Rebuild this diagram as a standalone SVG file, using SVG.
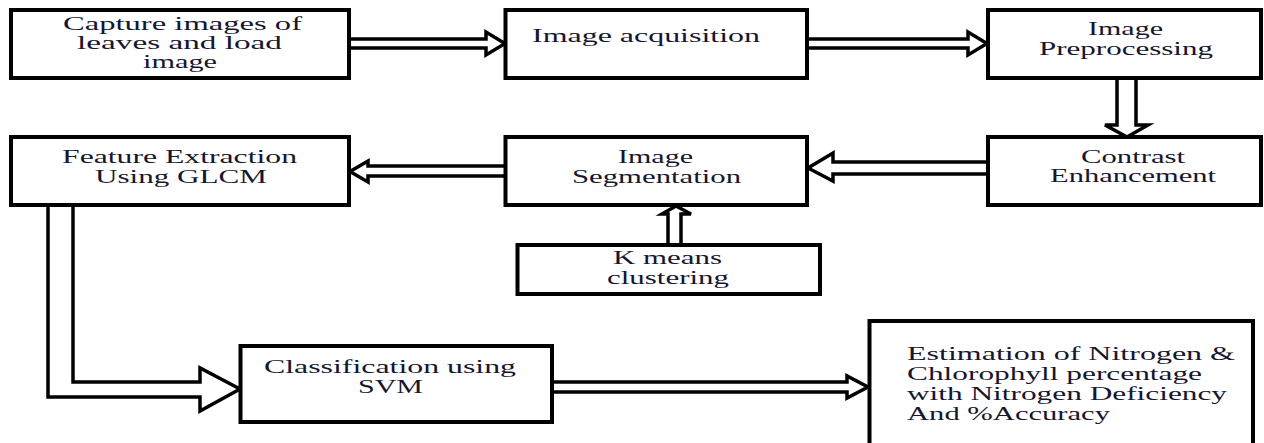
<svg xmlns="http://www.w3.org/2000/svg" width="1264" height="443" viewBox="0 0 1264 443">
<style>
.box{fill:#fff;stroke:#000;stroke-width:4}
.arr{fill:#fff;stroke:#000;stroke-width:3.5;stroke-linejoin:miter}
.t text{font-family:'Liberation Serif','Times New Roman',serif;font-size:19px;fill:#16162e}
</style>
<rect width="1264" height="443" fill="#fff"/>
<g id="connectors">
<path class="arr" d="M349,39 H486 V32 L505,43.5 L486,55 V48 H349"/>
<path class="arr" d="M807,39 H968 V32 L987,43.5 L968,55 V48 H807"/>
<path class="arr" d="M1117,78 V125 H1105 L1127,137 L1148,125 H1136 V78"/>
<path class="arr" d="M988,162 H833 V153 L808,168 L833,181 V174 H988"/>
<path class="arr" d="M505.5,166 H368 V161 L350,171.5 L368,182 V176 H505.5"/>
<path class="arr" d="M668,245 V214 H662 L676,206 L691,214 H681 V245"/>
<path class="arr" d="M48,205 V397 H200 V411 L240,389 L200,368 V382 H73 V205"/>
<path class="arr" d="M552,382 H847 V376 L868,387 L847,398 V392 H552"/>
</g>
<g id="n1" class="t">
<rect class="box" x="11" y="10" width="338" height="68"/>
<text x="63" y="30" textLength="239" lengthAdjust="spacingAndGlyphs">Capture images of</text>
<text x="77" y="49" textLength="205" lengthAdjust="spacingAndGlyphs">leaves and load</text>
<text x="143" y="68" textLength="74" lengthAdjust="spacingAndGlyphs">image</text>
</g>
<g id="n2" class="t">
<rect class="box" x="505.5" y="10" width="301.5" height="68"/>
<text x="532" y="42" textLength="228" lengthAdjust="spacingAndGlyphs">Image acquisition</text>
</g>
<g id="n3" class="t">
<rect class="box" x="988" y="10" width="273" height="68"/>
<text x="1088" y="35" textLength="75" lengthAdjust="spacingAndGlyphs">Image</text>
<text x="1039" y="55" textLength="174" lengthAdjust="spacingAndGlyphs">Preprocessing</text>
</g>
<g id="n4" class="t">
<rect class="box" x="988" y="137" width="273" height="68"/>
<text x="1081" y="163" textLength="104" lengthAdjust="spacingAndGlyphs">Contrast</text>
<text x="1050" y="182" textLength="166" lengthAdjust="spacingAndGlyphs">Enhancement</text>
</g>
<g id="n5" class="t">
<rect class="box" x="505.5" y="137" width="301.5" height="68"/>
<text x="618" y="163" textLength="75" lengthAdjust="spacingAndGlyphs">Image</text>
<text x="572" y="183" textLength="169" lengthAdjust="spacingAndGlyphs">Segmentation</text>
</g>
<g id="n6" class="t">
<rect class="box" x="11" y="137" width="338" height="68"/>
<text x="62" y="163" textLength="235" lengthAdjust="spacingAndGlyphs">Feature Extraction</text>
<text x="95" y="183" textLength="172" lengthAdjust="spacingAndGlyphs">Using GLCM</text>
</g>
<g id="n7" class="t">
<rect class="box" x="517.5" y="245" width="302.5" height="49"/>
<text x="613" y="264" textLength="109" lengthAdjust="spacingAndGlyphs">K means</text>
<text x="607" y="284" textLength="122" lengthAdjust="spacingAndGlyphs">clustering</text>
</g>
<g id="n8" class="t">
<rect class="box" x="240.5" y="346" width="311.5" height="76"/>
<text x="264" y="373" textLength="252" lengthAdjust="spacingAndGlyphs">Classification using</text>
<text x="358" y="393" textLength="65" lengthAdjust="spacingAndGlyphs">SVM</text>
</g>
<g id="n9" class="t">
<rect class="box" x="869.5" y="321" width="383.5" height="130"/>
<text x="907" y="360" textLength="328" lengthAdjust="spacingAndGlyphs">Estimation of Nitrogen &amp;</text>
<text x="907" y="380" textLength="295" lengthAdjust="spacingAndGlyphs">Chlorophyll percentage</text>
<text x="907" y="400" textLength="320" lengthAdjust="spacingAndGlyphs">with Nitrogen Deficiency</text>
<text x="907" y="420" textLength="203" lengthAdjust="spacingAndGlyphs">And %Accuracy</text>
</g>
</svg>
